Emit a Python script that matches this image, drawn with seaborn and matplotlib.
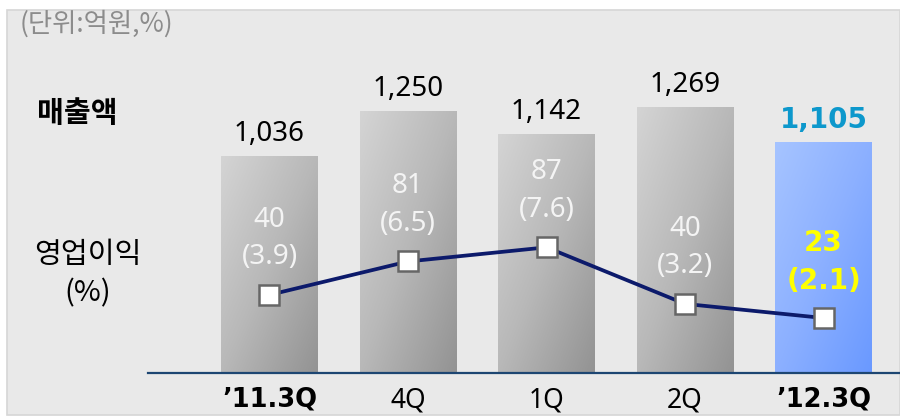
import numpy as np
import pandas as pd
import matplotlib
matplotlib.use("Agg")
import matplotlib.pyplot as plt
from matplotlib.patches import Rectangle
from matplotlib.colors import LinearSegmentedColormap
import seaborn as sns

# ---- data ----
quarters = ["\u201911.3Q", "4Q", "1Q", "2Q", "\u201912.3Q"]
sales = [1036, 1250, 1142, 1269, 1105]          # 매출액 (억원)
op_profit = [40, 81, 87, 40, 23]               # 영업이익 (억원)
op_margin = [3.9, 6.5, 7.6, 3.2, 2.1]          # 영업이익률 (%)
sales_labels = ["1,036", "1,250", "1,142", "1,269", "1,105"]

sns.set_theme(style="white")
plt.rcParams["font.family"] = ["Noto Sans", "Noto Sans CJK KR", "DejaVu Sans"]
KR = ["Noto Sans CJK KR", "DejaVu Sans"]
BOLD = ["DejaVu Sans"]

W, H, DPI = 900, 417, 100
fig = plt.figure(figsize=(W / DPI, H / DPI), dpi=DPI, facecolor="white")

# grey panel behind the chart
fig.patches.append(Rectangle((7 / W, 2 / H), (W - 7) / W, (407 - 2) / H,
                             transform=fig.transFigure, facecolor="#e9e9e9",
                             edgecolor="#d6d6d6", linewidth=1.2, zorder=-5))

ax_left, ax_base, ax_top = 148, 373, 10
ax = fig.add_axes([ax_left / W, (H - ax_base) / H, (W - ax_left) / W,
                   (ax_base - ax_top) / H])
ax.set_facecolor("none")

df = pd.DataFrame({"quarter": quarters, "sales": sales})
sns.barplot(data=df, x="quarter", y="sales", ax=ax, width=0.70,
            color="#b8b8b8", saturation=1, linewidth=0, zorder=2)

xlim = (-0.877, 4.552)
ax.set_xlim(*xlim)
ax.set_ylim(0, 1735)

# diagonal gradient fill for each bar, clipped to the bar shape
grey_cmap = LinearSegmentedColormap.from_list("g", ["#d4d4d4", "#b8b8b8", "#939393"])
blue_cmap = LinearSegmentedColormap.from_list("b", ["#a6c4ff", "#8cb0ff", "#6a99ff"])
gx, gy = np.meshgrid(np.linspace(0, 1, 60), np.linspace(0, 1, 120))
grad = 0.5 * gx + 0.5 * gy
for i, bar in enumerate(ax.patches):
    x0, w, h = bar.get_x(), bar.get_width(), bar.get_height()
    cmap = blue_cmap if i == len(ax.patches) - 1 else grey_cmap
    im = ax.imshow(grad, cmap=cmap, extent=(x0, x0 + w, 0, h), origin="upper",
                   aspect="auto", zorder=2.1, interpolation="bilinear")
    im.set_clip_path(bar)
ax.set_xlim(*xlim)
ax.set_ylim(0, 1735)

# sales labels above bars
for i, (v, lab) in enumerate(zip(sales, sales_labels)):
    last = i == len(sales) - 1
    if last:
        ax.annotate(lab, (i, v), xytext=(0, 16), textcoords="offset points",
                    ha="center", va="center", fontsize=20, family=BOLD,
                    fontweight="bold", color="#0d98cc", zorder=5)
    else:
        ax.annotate(lab, (i, v), xytext=(0, 16), textcoords="offset points",
                    ha="center", va="center", fontsize=20, color="black", zorder=5)

for s in ["top", "right", "left"]:
    ax.spines[s].set_visible(False)
ax.spines["bottom"].set_color("#1d4672")
ax.spines["bottom"].set_linewidth(1.6)
ax.set_yticks([])
ax.set_xlabel("")
ax.set_ylabel("")
ax.tick_params(axis="x", length=0, pad=10, labelsize=19, labelcolor="black")
for i, t in enumerate(ax.get_xticklabels()):
    if i in (0, len(quarters) - 1):
        t.set_family(BOLD)
        t.set_fontweight("bold")
        t.set_fontsize(18.5)

# operating margin line on a secondary scale
ax2 = ax.twinx()
ax2.set_facecolor("none")
sns.lineplot(x=np.arange(len(op_margin)), y=op_margin, ax=ax2, color="#0c1a6b",
             linewidth=2.7, marker="s", markersize=15, markerfacecolor="white",
             markeredgecolor="#666666", markeredgewidth=1.8, zorder=4)
ax2.set_xlim(*xlim)
ax2.set_ylim(-2.18, 26.07)
ax2.set_yticks([])
ax2.set_ylabel("")
for s in ["top", "right", "left", "bottom"]:
    ax2.spines[s].set_visible(False)

for i, (p, m) in enumerate(zip(op_profit, op_margin)):
    last = i == len(op_margin) - 1
    style = dict(family=BOLD, fontweight="bold", color="#ffff00") if last \
        else dict(color="#f4f4f4")
    ax2.annotate(f"({m:.1f})", (i, m), xytext=(0, 27), textcoords="offset points",
                 ha="center", va="center", fontsize=20, zorder=5, **style)
    ax2.annotate(f"{p}", (i, m), xytext=(0, 54), textcoords="offset points",
                 ha="center", va="center", fontsize=20, zorder=5, **style)

# side captions
fig.text(20 / W, 1 - 24 / H, "(단위:억원,%)", family=KR, fontsize=19,
         color="#8c8c8c", ha="left", va="center")
fig.text(77 / W, 1 - 113 / H, "매출액", family=KR, fontsize=21,
         fontweight="bold", color="black", ha="center", va="center")
fig.text(88 / W, 1 - 255 / H, "영업이익", family=KR, fontsize=21,
         fontweight="medium", color="black", ha="center", va="center")
fig.text(88 / W, 1 - 293 / H, "(%)", family=KR, fontsize=21,
         color="black", ha="center", va="center")

fig.savefig("out.png", dpi=DPI, facecolor="white")
